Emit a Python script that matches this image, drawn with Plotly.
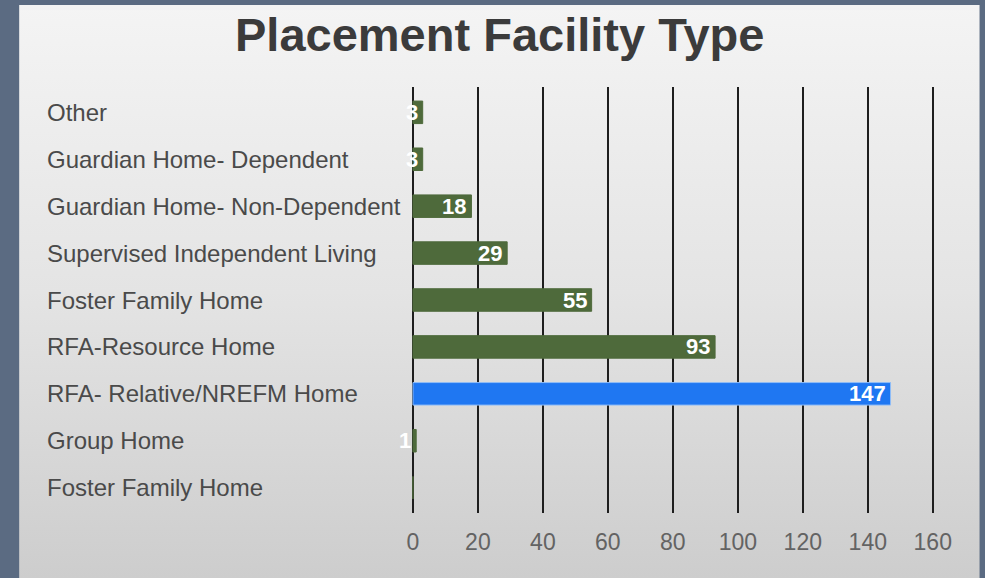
import plotly.graph_objects as go
import base64

categories = ["Other", "Guardian Home- Dependent", "Guardian Home- Non-Dependent",
              "Supervised Independent Living", "Foster Family Home", "RFA-Resource Home",
              "RFA- Relative/NREFM Home", "Group Home", "Foster Family Home"]
values = [3, 3, 18, 29, 55, 93, 147, 1, 0]
x_ticks = [0, 20, 40, 60, 80, 100, 120, 140, 160]
title_text = "Placement Facility Type"

GREEN = "#4e6a3b"
BLUE = "#1f77f2"
bar_colors = [BLUE if v == max(values) else GREEN for v in values]
line_colors = ["#8fbcf7" if v == max(values) else GREEN for v in values]

W, H = 985, 578
PPU = 3.25                      # pixels per unit on x
XMIN, XMAX = -0.6, 161.0
L = 413 - (0 - XMIN) * PPU
PW = (XMAX - XMIN) * PPU
R = W - L - PW
T, B = 87, 65
PH = H - T - B
FONT = "Liberation Sans, Arial, sans-serif"

def px_x(p):
    return (p - L) / PW

def px_y(p):
    return (H - B - p) / PH

ypos = list(range(len(categories)))

fig = go.Figure()
fig.add_trace(go.Bar(
    x=values, y=ypos, orientation="h", width=0.48,
    marker=dict(color=bar_colors, line=dict(color=line_colors, width=1)),
    hoverinfo="x+text", hovertext=categories, showlegend=False,
))

annotations = []
for cat, yy in zip(categories, ypos):
    annotations.append(dict(
        x=px_x(45), xref="paper", y=yy, yref="y", text=cat, showarrow=False,
        xanchor="left", yanchor="middle",
        font=dict(family=FONT, size=24, color="#4a4a4a"),
    ))
for v, yy in zip(values, ypos):
    if v > 0:
        annotations.append(dict(
            x=v, xref="x", y=yy, yref="y", text=f"<b>{v}</b>", showarrow=False,
            xanchor="right", yanchor="middle", xshift=-3,
            font=dict(family=FONT, size=22, color="white"),
        ))
annotations.append(dict(
    x=px_x(500), xref="paper", y=px_y(34), yref="paper", text=f"<b>{title_text}</b>",
    showarrow=False, xanchor="center", yanchor="middle",
    font=dict(family=FONT, size=47, color="#3b3b3b"),
))

svg = ('<svg xmlns="http://www.w3.org/2000/svg" width="100" height="100" preserveAspectRatio="none">'
       '<defs><linearGradient id="g" x1="0" y1="0" x2="0" y2="1">'
       '<stop offset="0" stop-color="#f4f4f4"/><stop offset="0.5" stop-color="#e4e4e4"/>'
       '<stop offset="1" stop-color="#cdcdcd"/></linearGradient></defs>'
       '<rect width="100" height="100" fill="url(#g)"/></svg>')
src = "data:image/svg+xml;base64," + base64.b64encode(svg.encode()).decode()

px0, px1, py0, py1 = 19, 980, 5, 578
fig.update_layout(
    width=W, height=H,
    margin=dict(l=L, r=R, t=T, b=B, pad=0),
    paper_bgcolor="#5b6b82",
    plot_bgcolor="rgba(0,0,0,0)",
    images=[dict(source=src, xref="paper", yref="paper",
                 x=px_x(px0), y=px_y(py0), sizex=px_x(px1) - px_x(px0), sizey=px_y(py0) - px_y(py1),
                 xanchor="left", yanchor="top", sizing="stretch", layer="below")],
    annotations=annotations,
    bargap=0.5,
)
fig.update_xaxes(
    range=[XMIN, XMAX], tickvals=x_ticks, ticktext=[str(t) for t in x_ticks],
    showgrid=True, gridcolor="#1e1e1e", gridwidth=2,
    zeroline=True, zerolinecolor="#1e1e1e", zerolinewidth=2,
    showline=False, ticks="", ticklen=0,
    tickfont=dict(family=FONT, size=23, color="#636363"),
    ticklabelstandoff=13, fixedrange=True,
)
fig.update_yaxes(
    range=[len(categories) - 0.5 + 0.04, -0.5 - 0.04], showticklabels=False,
    showgrid=False, zeroline=False, showline=False, fixedrange=True,
)
fig.write_html("out.html", config={"displayModeBar": False},
               post_script="document.body.style.margin='0';")
